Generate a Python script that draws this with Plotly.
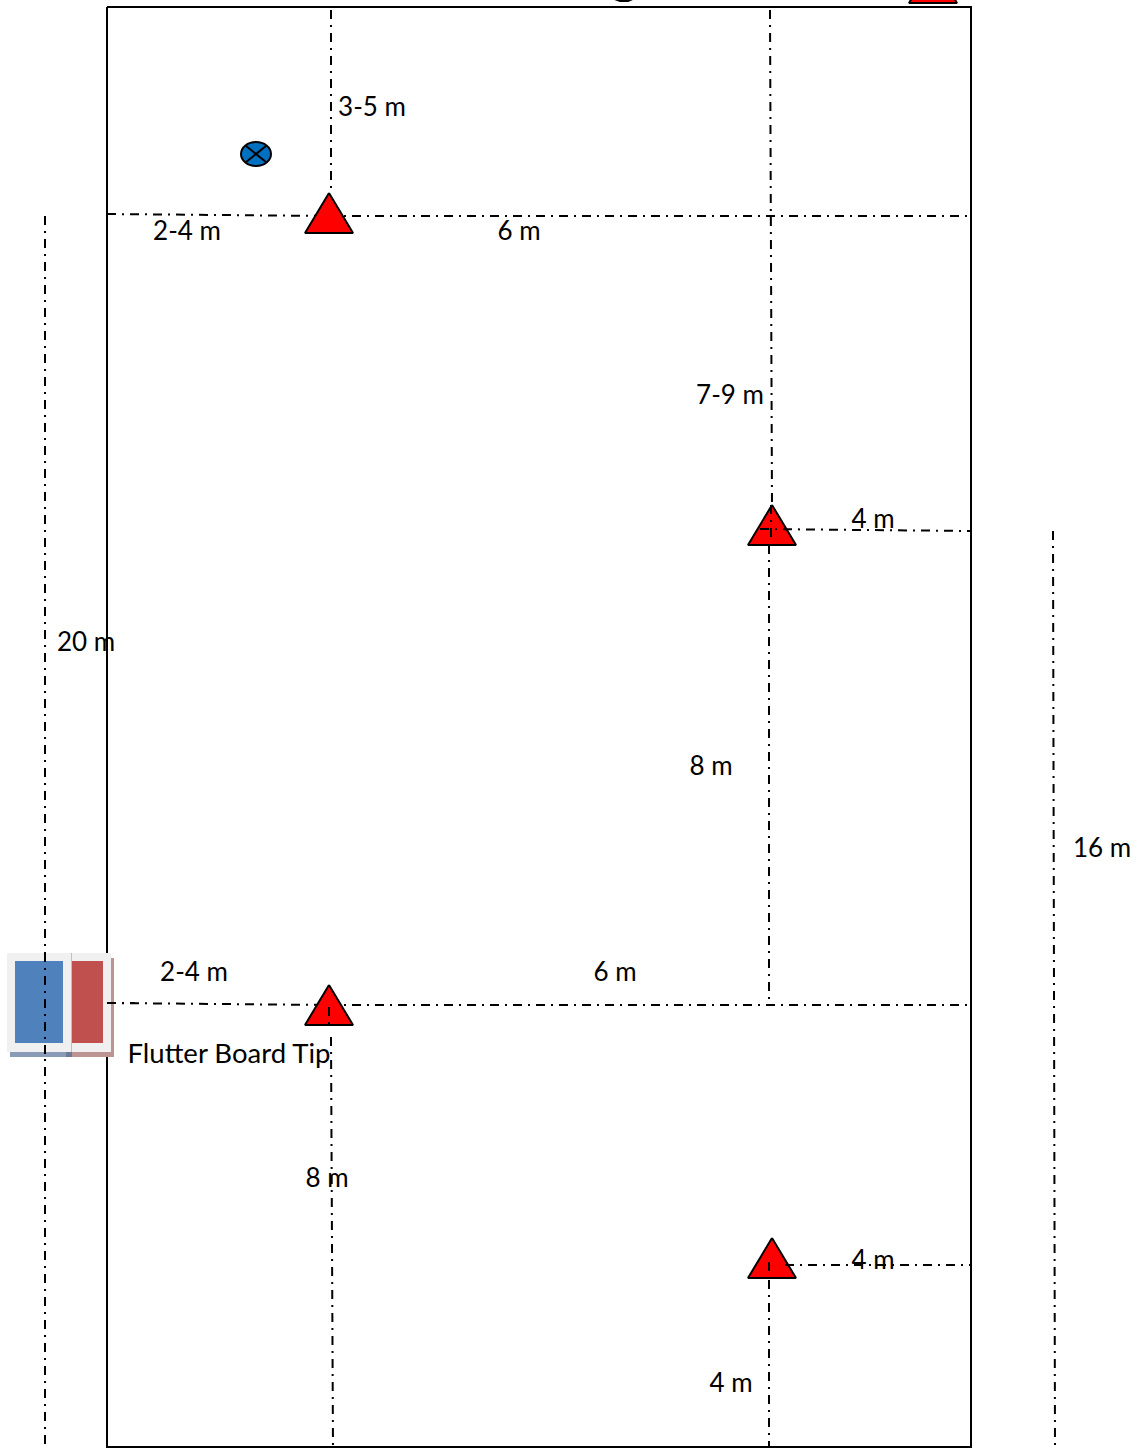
import plotly.graph_objects as go

W, H = 1139, 1452

field_x = [107, 971, 971, 107, 107]
field_y = [7, 7, 1447, 1447, 7]

guide_lines = [
    ((45, 216), (45, 1448)),
    ((1053, 531), (1055, 1448)),
    ((331, 10), (331, 193)),
    ((107, 214), (329, 216)),
    ((329, 216), (971, 216)),
    ((770, 10), (772, 505)),
    ((769, 545), (769, 1005)),
    ((107, 1003), (329, 1005)),
    ((329, 1005), (971, 1005)),
    ((331, 1037), (333, 1448)),
    ((769, 1280), (769, 1448)),
]
over_lines = [
    ((771, 505), (771, 540)),
    ((760, 529), (970, 531)),
    ((329, 1007), (329, 1025)),
    ((785, 1265), (971, 1265)),
    ((769, 1262), (769, 1278)),
]

triangle_apex_x = [329, 772, 329, 772, 933]
triangle_apex_y = [193, 505, 985, 1238, -37]
TRI_HALF_W, TRI_H = 24, 40

label_text = ["3-5 m", "2-4 m", "6 m", "7-9 m", "4 m", "20 m", "8 m", "16 m",
              "2-4 m", "6 m", "Flutter Board Tip", "8 m", "4 m", "4 m"]
label_x = [372, 187, 519, 730, 873, 86, 711, 1102, 194, 615, 229, 327, 873, 731]
label_y = [109.5, 233.5, 233.5, 397.5, 521.5, 644.5, 768.5, 850.5, 974.5, 974.5, 1056.5, 1180.5, 1262.5, 1385.5]
label_size = [26, 26, 26, 26, 26, 26, 26, 26, 26, 26, 27.5, 26, 26, 26]

# (x0, y0, x1, y1, colour)
board_parts = [
    (10, 958, 73, 1057, "#8A9BB8"),
    (70, 958, 114, 1057, "#BC9492"),
    (66, 958, 72, 1057, "#6F7A98"),
    (7, 953, 71, 1052, "#F0F0F0"),
    (71, 953, 111, 1052, "#F0F0F0"),
    (15, 961, 63, 1043, "#4F81BD"),
    (72, 961, 103, 1043, "#C0504D"),
    (71, 953, 72, 1052, "#B8C0D0"),
]

DASH = "9px,6px,2px,6px"
fig = go.Figure()


def line(p, q, dash=DASH, width=2):
    fig.add_trace(go.Scatter(x=[p[0], q[0]], y=[p[1], q[1]], mode="lines",
                             line=dict(color="black", width=width, dash=dash),
                             hoverinfo="skip", showlegend=False))


# field border
fig.add_trace(go.Scatter(x=field_x, y=field_y, mode="lines",
                         line=dict(color="black", width=2),
                         hoverinfo="skip", showlegend=False))
for p, q in guide_lines:
    line(p, q)

# cut-off descender at the top edge
fig.add_trace(go.Scatter(x=[612, 620, 628, 635], y=[-2, 1, 1, -2], mode="lines",
                         line=dict(color="black", width=2),
                         hoverinfo="skip", showlegend=False))

# triangles
for ax, ay in zip(triangle_apex_x, triangle_apex_y):
    fig.add_trace(go.Scatter(
        x=[ax, ax + TRI_HALF_W, ax - TRI_HALF_W, ax],
        y=[ay, ay + TRI_H, ay + TRI_H, ay],
        mode="lines", fill="toself", fillcolor="#FF0000",
        line=dict(color="black", width=2),
        hoverinfo="skip", showlegend=False))

# flutter boards
for x0, y0, x1, y1, c in board_parts:
    fig.add_trace(go.Scatter(
        x=[x0, x1, x1, x0, x0], y=[y0, y0, y1, y1, y0],
        mode="lines", fill="toself", fillcolor=c,
        line=dict(color=c, width=0),
        hoverinfo="skip", showlegend=False))

for p, q in over_lines:
    line(p, q)
# parts of lines that run over the boards
line((45, 953), (45, 1057))
line((107, 1003), (135, 1003))

# labels
fig.add_trace(go.Scatter(
    x=label_x, y=label_y, text=label_text, mode="text",
    textposition="middle center",
    textfont=dict(family="Lato, Carlito, sans-serif", size=label_size, color="black"),
    hoverinfo="skip", showlegend=False))

# valve symbol
cx, cy, rx, ry = 256, 154, 15, 12
fig.add_shape(type="circle", xref="x", yref="y", x0=cx - rx, x1=cx + rx,
              y0=cy - ry, y1=cy + ry, fillcolor="#0070C0",
              line=dict(color="black", width=2), layer="above")
for sy in (-1, 1):
    fig.add_shape(type="line", xref="x", yref="y", x0=cx - 10.5, x1=cx + 10.5,
                  y0=cy - sy * 8.5, y1=cy + sy * 8.5,
                  line=dict(color="black", width=2), layer="above")

fig.update_layout(
    width=W, height=H, margin=dict(l=0, r=0, t=0, b=0),
    paper_bgcolor="white", plot_bgcolor="white", showlegend=False,
    xaxis=dict(range=[0, W], visible=False, fixedrange=True),
    yaxis=dict(range=[H, 0], visible=False, fixedrange=True),
)
fig.write_html("out.html", config={"displayModeBar": False},
               post_script="document.body.style.margin='0';document.body.style.overflow='hidden';")
